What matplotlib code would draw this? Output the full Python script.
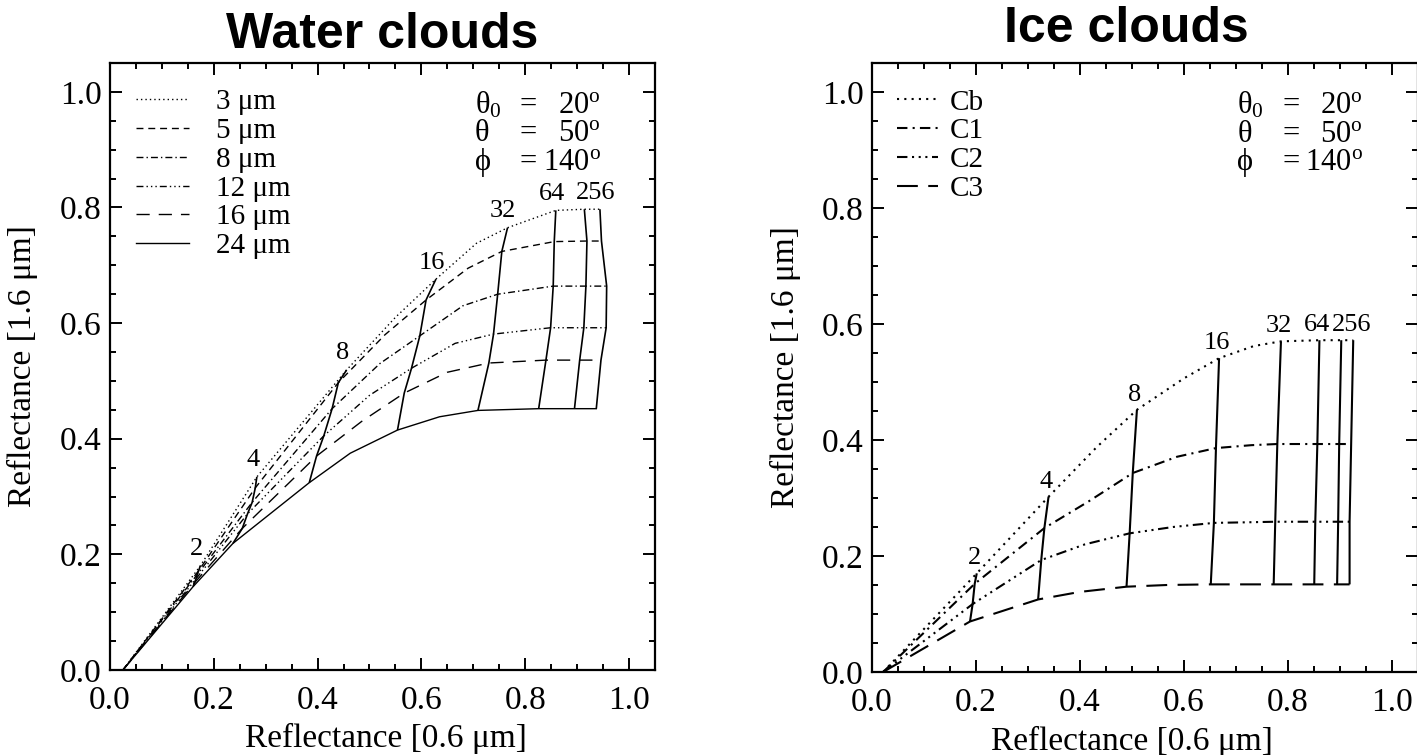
import numpy as np
import matplotlib.pyplot as plt

plt.rcParams['font.family'] = ['Liberation Serif', 'DejaVu Serif']
plt.rcParams['mathtext.fontset'] = 'custom'
plt.rcParams['mathtext.rm'] = 'Liberation Serif'
plt.rcParams['mathtext.it'] = 'Liberation Serif:italic'
plt.rcParams['mathtext.bf'] = 'Liberation Serif:bold'

# ---- water clouds: one curve per effective radius, nodes at these optical thicknesses
water_tau = [0, 2, 4, 8, 12, 16, 24, 32, 64, 128, 256]
water_radii = ['3 μm', '5 μm', '8 μm', '12 μm', '16 μm', '24 μm']
water_x = [
    [0.025, 0.174, 0.283, 0.456, 0.550, 0.628, 0.706, 0.766, 0.859, 0.914, 0.944],
    [0.025, 0.171, 0.280, 0.440, 0.530, 0.609, 0.690, 0.755, 0.856, 0.919, 0.947],
    [0.025, 0.168, 0.274, 0.428, 0.520, 0.597, 0.680, 0.747, 0.854, 0.917, 0.957],
    [0.025, 0.166, 0.265, 0.412, 0.500, 0.581, 0.665, 0.739, 0.849, 0.913, 0.956],
    [0.025, 0.163, 0.255, 0.398, 0.485, 0.567, 0.650, 0.730, 0.840, 0.905, 0.946],
    [0.025, 0.160, 0.237, 0.384, 0.463, 0.554, 0.635, 0.709, 0.826, 0.895, 0.937],
]
water_y = [
    [0.0, 0.180, 0.334, 0.519, 0.610, 0.676, 0.738, 0.765, 0.795, 0.797, 0.797],
    [0.0, 0.172, 0.315, 0.497, 0.580, 0.640, 0.695, 0.724, 0.741, 0.742, 0.742],
    [0.0, 0.165, 0.290, 0.452, 0.530, 0.578, 0.630, 0.650, 0.664, 0.664, 0.664],
    [0.0, 0.158, 0.270, 0.405, 0.475, 0.522, 0.565, 0.581, 0.592, 0.592, 0.592],
    [0.0, 0.151, 0.245, 0.370, 0.430, 0.479, 0.515, 0.531, 0.536, 0.536, 0.536],
    [0.0, 0.144, 0.219, 0.324, 0.375, 0.415, 0.438, 0.449, 0.452, 0.452, 0.452],
]

# ---- ice clouds: one curve per crystal model
ice_tau = [0, 2, 4, 6, 8, 12, 16, 24, 32, 64, 128, 256]
ice_models = ['Cb', 'C1', 'C2', 'C3']
ice_x = [
    [0.022, 0.202, 0.340, 0.433, 0.510, 0.600, 0.668, 0.735, 0.787, 0.861, 0.903, 0.926],
    [0.022, 0.198, 0.332, 0.417, 0.502, 0.587, 0.662, 0.730, 0.780, 0.857, 0.899, 0.922],
    [0.022, 0.194, 0.326, 0.410, 0.496, 0.580, 0.658, 0.720, 0.776, 0.853, 0.897, 0.919],
    [0.022, 0.189, 0.320, 0.400, 0.490, 0.570, 0.652, 0.720, 0.773, 0.851, 0.895, 0.919],
]
ice_y = [
    [0.0, 0.170, 0.302, 0.388, 0.452, 0.506, 0.541, 0.562, 0.570, 0.572, 0.572, 0.572],
    [0.0, 0.152, 0.248, 0.294, 0.343, 0.371, 0.386, 0.391, 0.393, 0.393, 0.393, 0.393],
    [0.0, 0.117, 0.193, 0.220, 0.239, 0.250, 0.257, 0.258, 0.259, 0.259, 0.259, 0.259],
    [0.0, 0.087, 0.125, 0.138, 0.147, 0.150, 0.151, 0.151, 0.151, 0.151, 0.151, 0.151],
]

iso_tau = [2, 4, 8, 16, 32, 64, 128, 256]      # constant optical thickness lines
label_tau = [2, 4, 8, 16, 32, 64, 256]         # those that get a number

angle_names = [r'θ$_0$', 'θ', 'ϕ']
angle_values = [r'20$^{\rm o}$', r'50$^{\rm o}$', r'140$^{\rm o}$']

water_styles = [(0, (1, 2.2)), (0, (5, 3.5)), (0, (5, 2.2, 1, 2.2)),
                (0, (5, 2.2, 1, 2.2, 1, 2.2, 1, 2.2)), (0, (9.5, 6.5)), '-']
ice_styles = [(0, (1, 2.5)), (0, (5, 2.5, 1, 2.5)),
              (0, (5, 2.2, 1, 2.2, 1, 2.2, 1, 2.2)), (0, (10, 5))]


def draw_panel(ax, tau, xs, ys, names, styles, lw, iso_lw, lab_off):
    xs = np.array(xs)
    ys = np.array(ys)
    for i in range(len(names)):
        ax.plot(xs[i], ys[i], color='k', lw=lw, linestyle=styles[i], label=names[i])
    for t in iso_tau:
        j = tau.index(t)
        ax.plot(xs[:, j], ys[:, j], color='k', lw=iso_lw, solid_capstyle='butt')
        if t in label_tau:
            ax.annotate(str(t), (xs[0, j], ys[0, j]), xytext=lab_off,
                        textcoords='offset points', ha='center', va='center',
                        fontsize=19)
    # viewing geometry
    for k in range(3):
        yy = 0.977 - k * 0.0495
        ax.text(0.703, yy, angle_names[k], fontsize=22, ha='left', va='center')
        ax.text(0.806, yy, '=', fontsize=22, ha='center', va='center')
        ax.text(0.945, yy, angle_values[k], fontsize=22, ha='right', va='center')

    ax.set_xlim(0, 1.05)
    ax.set_ylim(0, 1.05)
    ax.set_xticks(np.arange(0, 1.01, 0.2))
    ax.set_yticks(np.arange(0, 1.01, 0.2))
    ax.set_xticks(np.arange(0, 1.051, 0.05), minor=True)
    ax.set_yticks(np.arange(0, 1.051, 0.05), minor=True)
    ax.xaxis.set_major_formatter(plt.FormatStrFormatter('%.1f'))
    ax.yaxis.set_major_formatter(plt.FormatStrFormatter('%.1f'))
    ax.tick_params(which='both', direction='in', top=True, right=True, width=1.4,
                   labelsize=24)
    ax.tick_params(which='major', length=8.5)
    ax.tick_params(which='minor', length=4.3)
    ax.tick_params(axis='x', pad=11)
    ax.tick_params(axis='y', pad=6)
    for s in ax.spines.values():
        s.set_linewidth(1.6)
    ax.set_xlabel('Reflectance [0.6 μm]', fontsize=24)
    ax.set_ylabel('Reflectance [1.6 μm]', fontsize=24)


fig = plt.figure(figsize=(14.17, 7.55), dpi=100)
ax1 = fig.add_axes([0.0776, 0.1126, 0.3846, 0.804])
ax2 = fig.add_axes([0.6152, 0.1100, 0.3853, 0.8066])

draw_panel(ax1, water_tau, water_x, water_y, water_radii, water_styles, 1.0, 1.2, (-3, 12))
draw_panel(ax2, ice_tau, ice_x, ice_y, ice_models, ice_styles, 1.5, 1.5, (-1.5, 11))

ax1.legend(loc='upper left', bbox_to_anchor=(0.048, 0.957), frameon=False, fontsize=21,
           handlelength=1.8, handletextpad=0.95, labelspacing=0.08, borderpad=0,
           borderaxespad=0)
ax2.legend(loc='upper left', bbox_to_anchor=(0.046, 0.957), frameon=False, fontsize=21,
           handlelength=1.4, handletextpad=0.4, labelspacing=0.08, borderpad=0,
           borderaxespad=0)

ax1.set_title('Water clouds', fontfamily='Liberation Sans', fontweight='bold',
              fontsize=36, x=0.5, pad=11)
ax2.set_title('Ice clouds', fontfamily='Liberation Sans', fontweight='bold',
              fontsize=36, x=0.467, pad=15)

ax1.xaxis.set_label_coords(0.506, -0.088)
ax2.xaxis.set_label_coords(0.477, -0.088)
ax1.yaxis.set_label_coords(-0.132, 0.5)
ax2.yaxis.set_label_coords(-0.129, 0.5)

fig.savefig('out.png', dpi=100)
